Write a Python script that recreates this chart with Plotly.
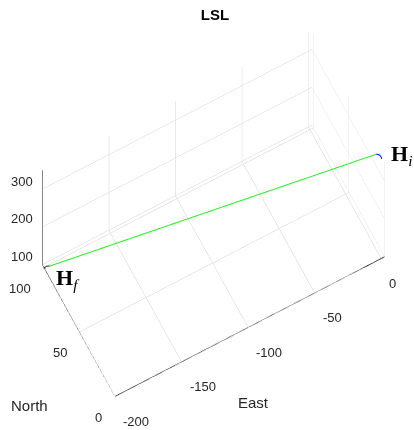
import plotly.graph_objects as go

# ---- data ----
arc1_east = [1.94, 2.30, 2.04, 1.29, 0.39]
arc1_north = [3.00, 4.50, 5.79, 6.87, 7.49]
arc1_alt = [349.0, 349.0, 349.0, 349.0, 349.0]

line_east = [0.39, -196.5]
line_north = [7.49, 98.6]
line_alt = [349.0, 101.2]

arc2_east = [-196.5, -198.3, -199.6, -200.0]
arc2_north = [98.6, 99.6, 99.5, 98.6]
arc2_alt = [101.2, 100.8, 100.4, 100.0]

east_ticks = [-200, -150, -100, -50, 0]
north_ticks = [0, 50, 100]
alt_ticks = [100, 200, 300]

east_range = [-200, 2.5]
north_range = [0, 102]
alt_range = [99, 350]

AX = "#262626"
GRID = "#d4d4d4"
FONT = "Liberation Sans, Arial, sans-serif"

fig = go.Figure()

def seg(xs, ys, zs, color, width):
    fig.add_trace(go.Scatter3d(x=xs, y=ys, z=zs, mode="lines",
                               line=dict(color=color, width=width),
                               hoverinfo="skip", showlegend=False))

# path
seg(arc1_east, arc1_north, arc1_alt, "#0000ff", 2)
seg(line_east, line_north, line_alt, "#22f022", 2)
seg(arc2_east, arc2_north, arc2_alt, "#333333", 2)

x0, x1 = east_range
y0, y1 = north_range
z0, z1 = alt_range
# axis lines
seg([x0, x1], [y0, y0], [z0, z0], AX, 1.5)
seg([x0, x0], [y0, y1], [z0, z0], AX, 1.5)
seg([x0, x0], [y1, y1], [z0, z1], AX, 1.5)
# tick marks
for t in east_ticks:
    seg([t, t], [y0, y0 - 5], [z0, z0], AX, 1.5)
for t in north_ticks:
    seg([x0, x0 - 5], [t, t], [z0, z0], AX, 1.5)
for t in alt_ticks:
    seg([x0, x0 - 4], [y1, y1], [t, t], AX, 1.5)

ann = []
for t in east_ticks:
    ann.append(dict(x=t, y=y0, z=z0, text=str(t), showarrow=False,
                    xanchor="left", yanchor="middle", xshift=6, yshift=-25,
                    font=dict(family=FONT, size=13, color=AX)))
for t in north_ticks:
    ann.append(dict(x=x0, y=t, z=z0, text=str(t), showarrow=False,
                    xanchor="right", yanchor="middle", xshift=-11, yshift=-21,
                    font=dict(family=FONT, size=13, color=AX)))
for t in alt_ticks:
    ann.append(dict(x=x0, y=y1, z=t, text=str(t), showarrow=False,
                    xanchor="right", yanchor="middle", xshift=-7, yshift=8,
                    font=dict(family=FONT, size=13, color=AX)))
ann.append(dict(x=arc1_east[0], y=arc1_north[0], z=arc1_alt[0],
                text="<b>H</b><sub><i>i</i></sub>", showarrow=False,
                xanchor="left", yanchor="middle", xshift=7, yshift=4,
                font=dict(family="Liberation Serif, serif", size=22, color="black")))
ann.append(dict(x=arc2_east[-1], y=arc2_north[-1], z=arc2_alt[-1],
                text="<b>H</b><sub><i>f</i></sub>", showarrow=False,
                xanchor="left", yanchor="middle", xshift=9, yshift=-10,
                font=dict(family="Liberation Serif, serif", size=22, color="black")))

def axis(rng, ticks):
    return dict(range=rng, tickvals=ticks, showgrid=True, gridcolor=GRID,
                gridwidth=1, zeroline=False, showline=False, ticks="",
                showticklabels=False, showbackground=False, title=dict(text=""),
                showspikes=False)

ex, ey, ez = -0.1181, -0.2207, 0.9681
k = 1.5
f = 1.774
fig.update_layout(
    width=414, height=430,
    margin=dict(l=0, r=0, t=0, b=0, pad=0),
    paper_bgcolor="white",
    title=dict(text="<b>LSL</b>", x=215 / 414, y=1 - 15 / 430,
               xanchor="center", yanchor="middle",
               font=dict(family=FONT, size=15, color="black")),
    scene=dict(
        domain=dict(x=[13 / 414, 1], y=[3 / 430, 1]),
        xaxis=axis(east_range, east_ticks),
        yaxis=axis(north_range, north_ticks),
        zaxis=axis(alt_range, alt_ticks),
        aspectmode="manual",
        aspectratio=dict(x=f * (x1 - x0) / (z1 - z0), y=f * (y1 - y0) / (z1 - z0), z=f),
        camera=dict(eye=dict(x=ex * k, y=ey * k, z=ez * k),
                    center=dict(x=0, y=0, z=0),
                    up=dict(x=0, y=0, z=1),
                    projection=dict(type="orthographic")),
        annotations=ann,
    ),
    annotations=[
        dict(x=254 / 414, y=1 - 402 / 430, xref="paper", yref="paper",
             text="East", showarrow=False, xanchor="center", yanchor="middle",
             font=dict(family=FONT, size=15, color=AX)),
        dict(x=29 / 414, y=1 - 405 / 430, xref="paper", yref="paper",
             text="North", showarrow=False, xanchor="center", yanchor="middle",
             font=dict(family=FONT, size=15, color=AX)),
    ],
    showlegend=False,
)
fig.write_html("out.html", config=dict(displayModeBar=False),
               post_script="document.body.style.margin='0px';document.body.style.overflow='hidden';")
